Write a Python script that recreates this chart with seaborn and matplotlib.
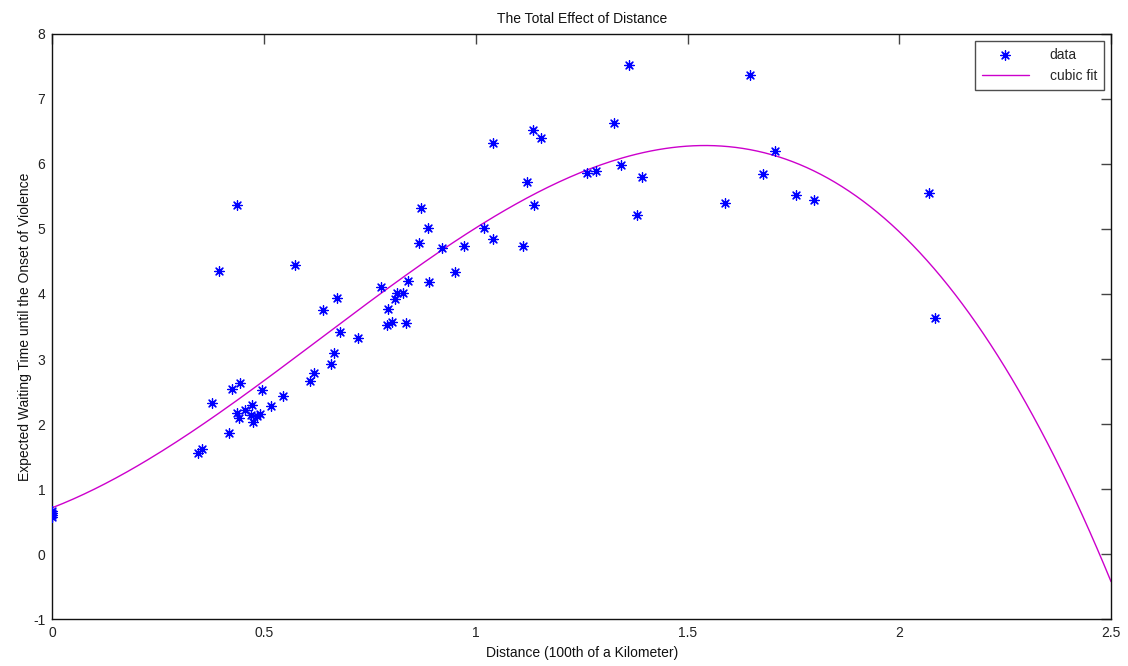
import numpy as np
import pandas as pd
import matplotlib
matplotlib.use("Agg")
import matplotlib.pyplot as plt
import seaborn as sns

# Data
distance = [0.0, 0.0, 0.0, 0.0,
            0.343, 0.354, 0.378, 0.394, 0.416, 0.424, 0.436, 0.437, 0.440, 0.444,
            0.454, 0.470, 0.472, 0.473, 0.483, 0.491, 0.494, 0.517, 0.545, 0.573,
            0.608, 0.618, 0.640, 0.657, 0.665, 0.673, 0.680, 0.721, 0.777, 0.791,
            0.792, 0.802, 0.810, 0.814, 0.829, 0.835, 0.840, 0.866, 0.870, 0.887,
            0.890, 0.921, 0.951, 0.971, 1.020, 1.040, 1.040, 1.112, 1.120, 1.135,
            1.137, 1.153, 1.263, 1.284, 1.326, 1.342, 1.362, 1.381, 1.392, 1.588,
            1.647, 1.679, 1.707, 1.755, 1.798, 2.069, 2.084]
waiting = [0.57, 0.60, 0.63, 0.67,
           1.56, 1.61, 2.33, 4.35, 1.87, 2.54, 2.17, 5.37, 2.09, 2.63,
           2.22, 2.14, 2.30, 2.04, 2.12, 2.15, 2.53, 2.28, 2.43, 4.45,
           2.66, 2.79, 3.76, 2.92, 3.10, 3.94, 3.41, 3.32, 4.11, 3.53,
           3.77, 3.57, 3.93, 4.01, 4.01, 3.56, 4.20, 4.79, 5.32, 5.02,
           4.19, 4.70, 4.34, 4.73, 5.01, 4.84, 6.32, 4.74, 5.72, 6.52,
           5.37, 6.40, 5.86, 5.89, 6.62, 5.98, 7.52, 5.22, 5.80, 5.40,
           7.37, 5.84, 6.19, 5.52, 5.45, 5.55, 3.63]

x_ticks = [0, 0.5, 1, 1.5, 2, 2.5]
x_tick_labels = ["0", "0.5", "1", "1.5", "2", "2.5"]
y_ticks = [-1, 0, 1, 2, 3, 4, 5, 6, 7, 8]

# cubic fit of the data
coef = np.polyfit(distance, waiting, 3)
x_fit = np.linspace(0, 2.5, 300)
fit_df = pd.DataFrame({"x": x_fit, "y": np.polyval(coef, x_fit)})
data_df = pd.DataFrame({"x": distance, "y": waiting})

sns.set_theme(style="white")
plt.rcParams["font.family"] = ["Liberation Sans", "DejaVu Sans"]
plt.rcParams["axes.unicode_minus"] = False

fig = plt.figure(figsize=(11.28, 6.66), dpi=100)
ax = fig.add_axes([0.0464, 0.0701, 0.9386, 0.8793])

sns.scatterplot(data=data_df, x="x", y="y", ax=ax, marker=(8, 2, 0),
                color="#0000ff", edgecolor="#0000ff", s=48, linewidth=0.9,
                label="data", zorder=3)
sns.lineplot(data=fit_df, x="x", y="y", ax=ax, color="#cc00cc",
             linewidth=1.0, estimator=None, sort=False, label="cubic fit",
             zorder=2)

ax.set_xlim(0, 2.5)
ax.set_ylim(-1, 8)
ax.set_xticks(x_ticks)
ax.set_xticklabels(x_tick_labels)
ax.set_yticks(y_ticks)
ax.tick_params(direction="in", length=7, width=1, colors="#444444",
               labelcolor="#222222", labelsize=10, top=True, right=True,
               pad=5)
for s in ax.spines.values():
    s.set_visible(True)
    s.set_color("#111111")
    s.set_linewidth(1.0)

ax.set_title("The Total Effect of Distance", fontsize=10, color="#111111", pad=8)
ax.set_xlabel("Distance (100th of a Kilometer)", fontsize=10, color="#111111", labelpad=4)
ax.set_ylabel("Expected Waiting Time until the Onset of Violence", fontsize=10,
              color="#111111", labelpad=1)

leg = ax.legend(loc="upper right", bbox_to_anchor=(1.0, 1.0), borderaxespad=0.5,
                frameon=True, fancybox=False, edgecolor="#222222", fontsize=10,
                borderpad=0.5, handlelength=3.4, handletextpad=1.5,
                labelspacing=0.55)
leg.get_frame().set_linewidth(1.0)

fig.savefig("out.png", dpi=100, facecolor="white")
